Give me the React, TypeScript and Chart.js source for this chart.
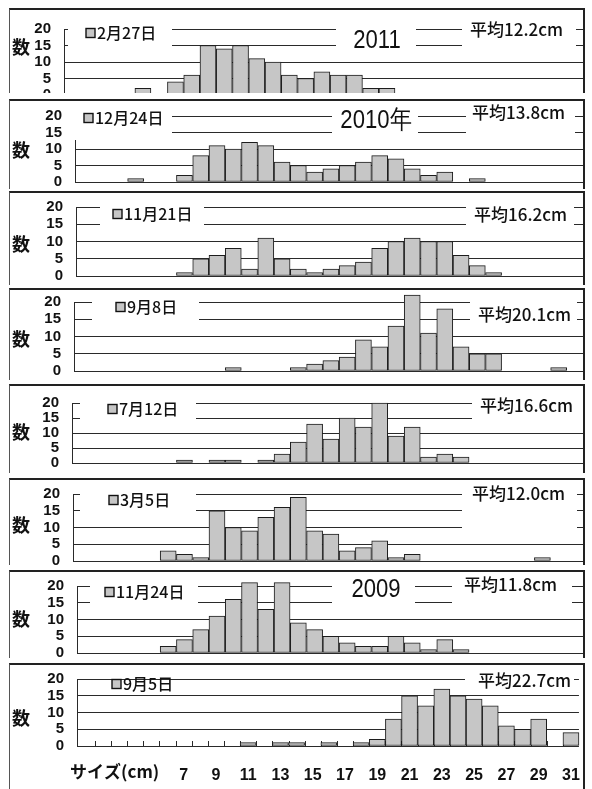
import React, { useEffect, useRef } from "react";
import { Chart, registerables } from "chart.js";
Chart.register(...registerables);

// ---------------- data ----------------
const SIZES = [1, 2, 3, 4, 5, 6, 7, 8, 9, 10, 11, 12, 13, 14, 15, 16, 17, 18, 19, 20, 21, 22, 23, 24, 25, 26, 27, 28, 29, 30, 31];
const X_TICKS = [7, 9, 11, 13, 15, 17, 19, 21, 23, 25, 27, 29, 31];
const Y_MAX = 20;
const Y_STEP = 5;

const DATES = ["2月27日", "12月24日", "11月21日", "9月8日", "7月12日", "3月5日", "11月24日", "9月5日"];
const MEANS = ["平均12.2cm", "平均13.8cm", "平均16.2cm", "平均20.1cm", "平均16.6cm", "平均12.0cm", "平均11.8cm", "平均22.7cm"];
const YEARS = ["2011", "2010年", "", "", "", "", "2009", ""];
const Y_TITLE = "数";
const X_TITLE = "サイズ(cm)";

const COUNTS_2011_0227 = [0, 0, 0, 0, 2, 0, 4, 6, 15, 14, 15, 11, 10, 6, 5, 7, 6, 6, 2, 2, 0, 0, 0, 0, 0, 0, 0, 0, 0, 0, 0];
const COUNTS_2010_1224 = [0, 0, 0, 1, 0, 0, 2, 8, 11, 10, 12, 11, 6, 5, 3, 4, 5, 6, 8, 7, 4, 2, 3, 0, 1, 0, 0, 0, 0, 0, 0];
const COUNTS_2010_1121 = [0, 0, 0, 0, 0, 0, 1, 5, 6, 8, 2, 11, 5, 2, 1, 2, 3, 4, 8, 10, 11, 10, 10, 6, 3, 1, 0, 0, 0, 0, 0];
const COUNTS_2010_0908 = [0, 0, 0, 0, 0, 0, 0, 0, 0, 1, 0, 0, 0, 1, 2, 3, 4, 9, 7, 13, 22, 11, 18, 7, 5, 5, 0, 0, 0, 1, 0];
const COUNTS_2010_0712 = [0, 0, 0, 0, 0, 0, 1, 0, 1, 1, 0, 1, 3, 7, 13, 8, 15, 12, 20, 9, 12, 2, 3, 2, 0, 0, 0, 0, 0, 0, 0];
const COUNTS_2010_0305 = [0, 0, 0, 0, 0, 3, 2, 1, 15, 10, 9, 13, 16, 19, 9, 8, 3, 4, 6, 1, 2, 0, 0, 0, 0, 0, 0, 0, 1, 0, 0];
const COUNTS_2009_1124 = [0, 0, 0, 0, 0, 2, 4, 7, 11, 16, 21, 13, 21, 9, 7, 5, 3, 2, 2, 5, 3, 1, 4, 1, 0, 0, 0, 0, 0, 0, 0];
const COUNTS_2009_0905 = [0, 0, 0, 0, 0, 0, 0, 0, 0, 0, 1, 0, 1, 1, 0, 1, 0, 1, 2, 8, 15, 12, 17, 15, 14, 12, 6, 5, 8, 0, 4];

const SERIES = [
  COUNTS_2011_0227,
  COUNTS_2010_1224,
  COUNTS_2010_1121,
  COUNTS_2010_0908,
  COUNTS_2010_0712,
  COUNTS_2010_0305,
  COUNTS_2009_1124,
  COUNTS_2009_0905,
];

// ---------------- layout / style ----------------
const SANS = "'Liberation Sans', Arial, sans-serif";
const JP = "'Noto Sans CJK JP', 'Noto Sans', sans-serif";
const BAR_FILL = "#c6c6c6";
const BAR_EDGE = "#1c1c1c";
const GRID = "#2a2a2a";
const INK = "#111111";

const CAT_W = 16.27;
const BASE_X = 78.7;
const FRAME_L = 9;
const FRAME_R = 585;
const PAGE_W = 592;
const CANVAS_OFF = 14; // canvas starts this far above the panel frame (hidden by clipping)
const BOTTOM_PAD = 26;
const X_AXIS_H = 36;

type Box = [number, number, number, number];
interface PanelLayout {
  top: number;
  bottom: number;
  y20: number;
  y0: number;
  left: number;
  right: number;
  shift: number;
  suY: number;
  legendX: number;
  legendY: number;
  legendCover?: Box;
  meanX: number;
  meanY: number;
  meanCover: Box;
  yearX?: number;
  yearY?: number;
  yearCover?: Box;
  axis?: boolean;
}

const LAYOUT: PanelLayout[] = [
  { top: 8, bottom: 93, y20: 29, y0: 95, left: 64, right: 583, shift: -9, suY: 47,
    legendX: 86, legendY: 33, legendCover: [68, 20, 172, 49],
    meanX: 470, meanY: 30, meanCover: [462, 20, 576, 50],
    yearX: 377, yearY: 41, yearCover: [336, 20, 416, 50] },
  { top: 99, bottom: 189, y20: 116, y0: 182, left: 75, right: 583, shift: 0, suY: 150,
    legendX: 84, legendY: 118, legendCover: [73, 108, 172, 140],
    meanX: 472, meanY: 113, meanCover: [466, 104, 575, 140],
    yearX: 376, yearY: 121, yearCover: [332, 108, 418, 140] },
  { top: 191, bottom: 285, y20: 207, y0: 276, left: 76, right: 583, shift: 0, suY: 244,
    legendX: 113, legendY: 214, legendCover: [100, 199, 204, 229],
    meanX: 474, meanY: 215, meanCover: [466, 199, 574, 229] },
  { top: 288, bottom: 380, y20: 302, y0: 371, left: 74, right: 583, shift: 0, suY: 339,
    legendX: 116, legendY: 307, legendCover: [92, 294, 199, 323],
    meanX: 478, meanY: 315, meanCover: [470, 294, 577, 325] },
  { top: 384, bottom: 473, y20: 403, y0: 463, left: 72, right: 583, shift: 0, suY: 432,
    legendX: 108, legendY: 409, legendCover: [80, 396, 196, 421],
    meanX: 480, meanY: 406, meanCover: [472, 394, 584, 421] },
  { top: 478, bottom: 565, y20: 494, y0: 561, left: 73, right: 583, shift: 0, suY: 525,
    legendX: 109, legendY: 500, legendCover: [80, 487, 196, 512],
    meanX: 472, meanY: 494, meanCover: [462, 482, 577, 530] },
  { top: 570, bottom: 658, y20: 586, y0: 653, left: 77, right: 583, shift: 0, suY: 619,
    legendX: 105, legendY: 592, legendCover: [90, 579, 198, 606],
    meanX: 464, meanY: 585, meanCover: [452, 576, 572, 606],
    yearX: 376, yearY: 590, yearCover: [332, 576, 415, 606] },
  { top: 663, bottom: 789, y20: 679, y0: 746, left: 77, right: 583, shift: 0, suY: 718,
    legendX: 112, legendY: 684,
    meanX: 478, meanY: 681, meanCover: [465, 671, 574, 691], axis: true },
];

function canvasTop(L: PanelLayout) {
  return L.top - CANVAS_OFF;
}
function canvasHeight(L: PanelLayout) {
  if (L.axis) return L.bottom - canvasTop(L);
  return L.y0 - canvasTop(L) + BOTTOM_PAD;
}

function narrowText(ctx: CanvasRenderingContext2D, text: string, x: number, y: number, sx: number) {
  ctx.save();
  ctx.translate(x, y);
  ctx.scale(sx, 1);
  ctx.fillText(text, 0, 0);
  ctx.restore();
}

function makeDeco(i: number) {
  return {
    id: "deco" + i,
    beforeDatasetsDraw(chart: any) {
      const L = LAYOUT[i];
      const ctx: CanvasRenderingContext2D = chart.ctx;
      const oy = canvasTop(L);
      ctx.save();
      ctx.fillStyle = "#ffffff";
      for (const b of [L.legendCover, L.meanCover, L.yearCover]) {
        if (b) ctx.fillRect(b[0], b[1] - oy, b[2] - b[0], b[3] - b[1]);
      }
      // legend marker + date
      ctx.fillStyle = BAR_FILL;
      ctx.fillRect(L.legendX, L.legendY - oy - 4.5, 9, 9);
      ctx.strokeStyle = INK;
      ctx.lineWidth = 1.4;
      ctx.strokeRect(L.legendX, L.legendY - oy - 4.5, 9, 9);
      ctx.fillStyle = INK;
      ctx.textBaseline = "middle";
      ctx.textAlign = "left";
      ctx.font = `500 16px ${JP}`;
      ctx.fillText(DATES[i], L.legendX + 11, L.legendY - oy);
      // mean
      ctx.font = `500 17px ${JP}`;
      ctx.fillText(MEANS[i], L.meanX, L.meanY - oy);
      // year
      if (YEARS[i] && L.yearX !== undefined && L.yearY !== undefined) {
        ctx.font = `26px ${SANS}`;
        ctx.textAlign = "center";
        narrowText(ctx, YEARS[i], L.yearX, L.yearY - oy, 0.85);
      }
      // y title (upright)
      ctx.font = `bold 18px ${JP}`;
      ctx.textAlign = "center";
      ctx.fillText(Y_TITLE, 21, L.suY - oy);
      if (L.axis) {
        const xs = chart.scales.x;
        const y0 = chart.chartArea.bottom;
        ctx.strokeStyle = GRID;
        ctx.lineWidth = 1;
        ctx.beginPath();
        for (let k = 0; k < SIZES.length - 1; k++) {
          const px = Math.round(xs.getPixelForValue(SIZES[k] + 0.5)) + 0.5;
          ctx.moveTo(px, y0);
          ctx.lineTo(px, y0 - 5);
        }
        ctx.stroke();
        ctx.fillStyle = INK;
        ctx.font = `bold 17px ${JP}`;
        ctx.textAlign = "left";
        ctx.textBaseline = "middle";
        ctx.fillText(X_TITLE, 70, 772 - oy);
      }
      ctx.restore();
    },
  };
}

export default function App() {
  const canvases = useRef<(HTMLCanvasElement | null)[]>([]);

  useEffect(() => {
    const charts: Chart[] = [];
    LAYOUT.forEach((L, i) => {
      const cv = canvases.current[i];
      if (!cv) return;
      const ct = canvasTop(L);
      const h = canvasHeight(L);
      const xMin = 0.5 + (L.left - BASE_X - L.shift) / CAT_W;
      const xMax = 0.5 + (L.right - BASE_X - L.shift) / CAT_W;
      const vals = SERIES[i];
      const chart = new Chart(cv, {
        type: "bar",
        data: {
          datasets: [
            {
              label: DATES[i],
              data: SIZES.map((s, k) => ({ x: s, y: vals[k] > 0 ? vals[k] : null })) as any,
              backgroundColor: BAR_FILL,
              borderColor: BAR_EDGE,
              borderWidth: 1,
              borderSkipped: false,
              barThickness: 16,
              clip: false as any,
            },
          ],
        },
        options: {
          responsive: false,
          animation: false,
          devicePixelRatio: 1,
          layout: {
            padding: {
              left: 0,
              right: PAGE_W - L.right,
              top: L.y20 - ct,
              bottom: L.axis ? h - (L.y0 - ct) - X_AXIS_H : BOTTOM_PAD,
            },
          },
          plugins: { legend: { display: false }, tooltip: { enabled: false }, title: { display: false } },
          scales: {
            x: {
              type: "linear",
              offset: false,
              min: xMin,
              max: xMax,
              display: !!L.axis,
              grid: { display: false, offset: false },
              border: { display: false },
              afterBuildTicks: (s: any) => {
                s.ticks = X_TICKS.map((v) => ({ value: v }));
              },
              afterFit: (s: any) => {
                if (L.axis) s.height = X_AXIS_H;
              },
              ticks: {
                autoSkip: false,
                maxRotation: 0,
                color: INK,
                padding: 12,
                font: { family: SANS, size: 16, weight: "bold" },
              },
            },
            y: {
              min: 0,
              max: Y_MAX,
              afterFit: (s: any) => {
                s.width = L.left;
              },
              ticks: {
                stepSize: Y_STEP,
                autoSkip: false,
                color: INK,
                padding: 13,
                font: { family: SANS, size: 15, weight: "bold" },
              },
              grid: { color: GRID, lineWidth: 1, drawTicks: false },
              border: { display: true, color: GRID, width: 1 },
            },
          },
        },
        plugins: [makeDeco(i)],
      });
      charts.push(chart);
    });
    return () => charts.forEach((c) => c.destroy());
  }, []);

  return (
    <div style={{ position: "absolute", left: 0, top: 0, width: PAGE_W, height: 789, background: "#fff", overflow: "hidden" }}>
      {LAYOUT.map((L, i) => {
        const h = canvasHeight(L);
        const boxH = L.bottom - L.top;
        return (
          <div key={i} style={{ position: "absolute", left: 0, top: L.top, width: PAGE_W, height: boxH, overflow: "hidden" }}>
            <canvas
              ref={(el) => {
                canvases.current[i] = el;
              }}
              width={PAGE_W}
              height={h}
              style={{ position: "absolute", left: 0, top: -CANVAS_OFF, width: PAGE_W, height: h }}
            />
            <div
              style={{
                position: "absolute",
                left: FRAME_L,
                top: 0,
                width: FRAME_R - FRAME_L,
                height: boxH + 2,
                borderTop: "2px solid #222",
                borderLeft: "1px solid #555",
                borderRight: "2px solid #222",
                boxSizing: "border-box",
                pointerEvents: "none",
              }}
            />
          </div>
        );
      })}
    </div>
  );
}
